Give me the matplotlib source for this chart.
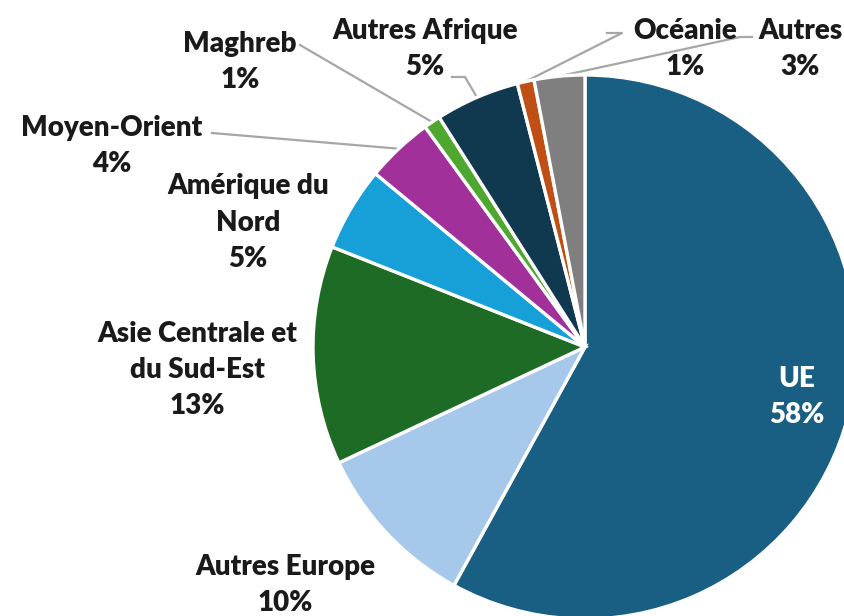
import numpy as np
import matplotlib.pyplot as plt

# Répartition par région (%)
regions = ["UE", "Autres Europe", "Asie Centrale et\ndu Sud-Est", "Amérique du\nNord",
           "Moyen-Orient", "Maghreb", "Autres Afrique", "Océanie", "Autres"]
parts = [58, 10, 13, 5, 4, 1, 5, 1, 3]
couleurs = ["#195e83", "#a6c8ea", "#1d6b24", "#17a0d8", "#a2309b",
            "#4ea72e", "#10384f", "#c04f15", "#7f7f7f"]

W, H = 845, 616
fig = plt.figure(figsize=(W / 100, H / 100), dpi=100)
ax = fig.add_axes([0, 0, 1, 1])

cx, cy, r = 585, H - 347, 272
wedges, _ = ax.pie(parts, colors=couleurs, startangle=90, counterclock=False,
                   center=(cx, cy), radius=r, frame=True,
                   wedgeprops=dict(edgecolor="white", linewidth=2.4))
ax.set_xlim(0, W)
ax.set_ylim(0, H)
ax.set_aspect("equal")
ax.axis("off")

police = dict(fontfamily="Lato", fontweight="heavy", fontsize=20, ha="center",
              va="center", linespacing=1.5, color="#1a1a1a")

# positions des étiquettes (pixels depuis le haut)
pos = {
    "UE": (797, 397),
    "Autres Europe": (285, 585),
    "Asie Centrale et\ndu Sud-Est": (197, 370),
    "Amérique du\nNord": (248, 223),
    "Moyen-Orient": (112, 146),
    "Maghreb": (240, 62),
    "Autres Afrique": (425, 49),
    "Océanie": (685, 49),
    "Autres": (800, 49),
}

for nom, val in zip(regions, parts):
    x, y = pos[nom]
    c = "white" if nom == "UE" else "#1a1a1a"
    ax.text(x, H - y, f"{nom}\n{val}%", **{**police, "color": c})

# lignes de rappel : départ (pixels) -> bord de la part
depart = {
    "Maghreb": [(300, 45)],
    "Moyen-Orient": [(212, 133)],
    "Autres Afrique": [(452, 77), (465, 77)],
    "Océanie": [(607, 33), (622, 33)],
    "Autres": [(752, 37), (740, 37)],
}
for nom, pts in depart.items():
    w = wedges[regions.index(nom)]
    a = np.deg2rad((w.theta1 + w.theta2) / 2)
    ex, ey = cx + r * np.cos(a), cy + r * np.sin(a)
    xs = [p[0] for p in pts] + [ex]
    ys = [H - p[1] for p in pts] + [ey]
    ax.plot(xs, ys, color="#a6a6a6", lw=1.6, zorder=0.5)

fig.savefig("out.png", dpi=100)
